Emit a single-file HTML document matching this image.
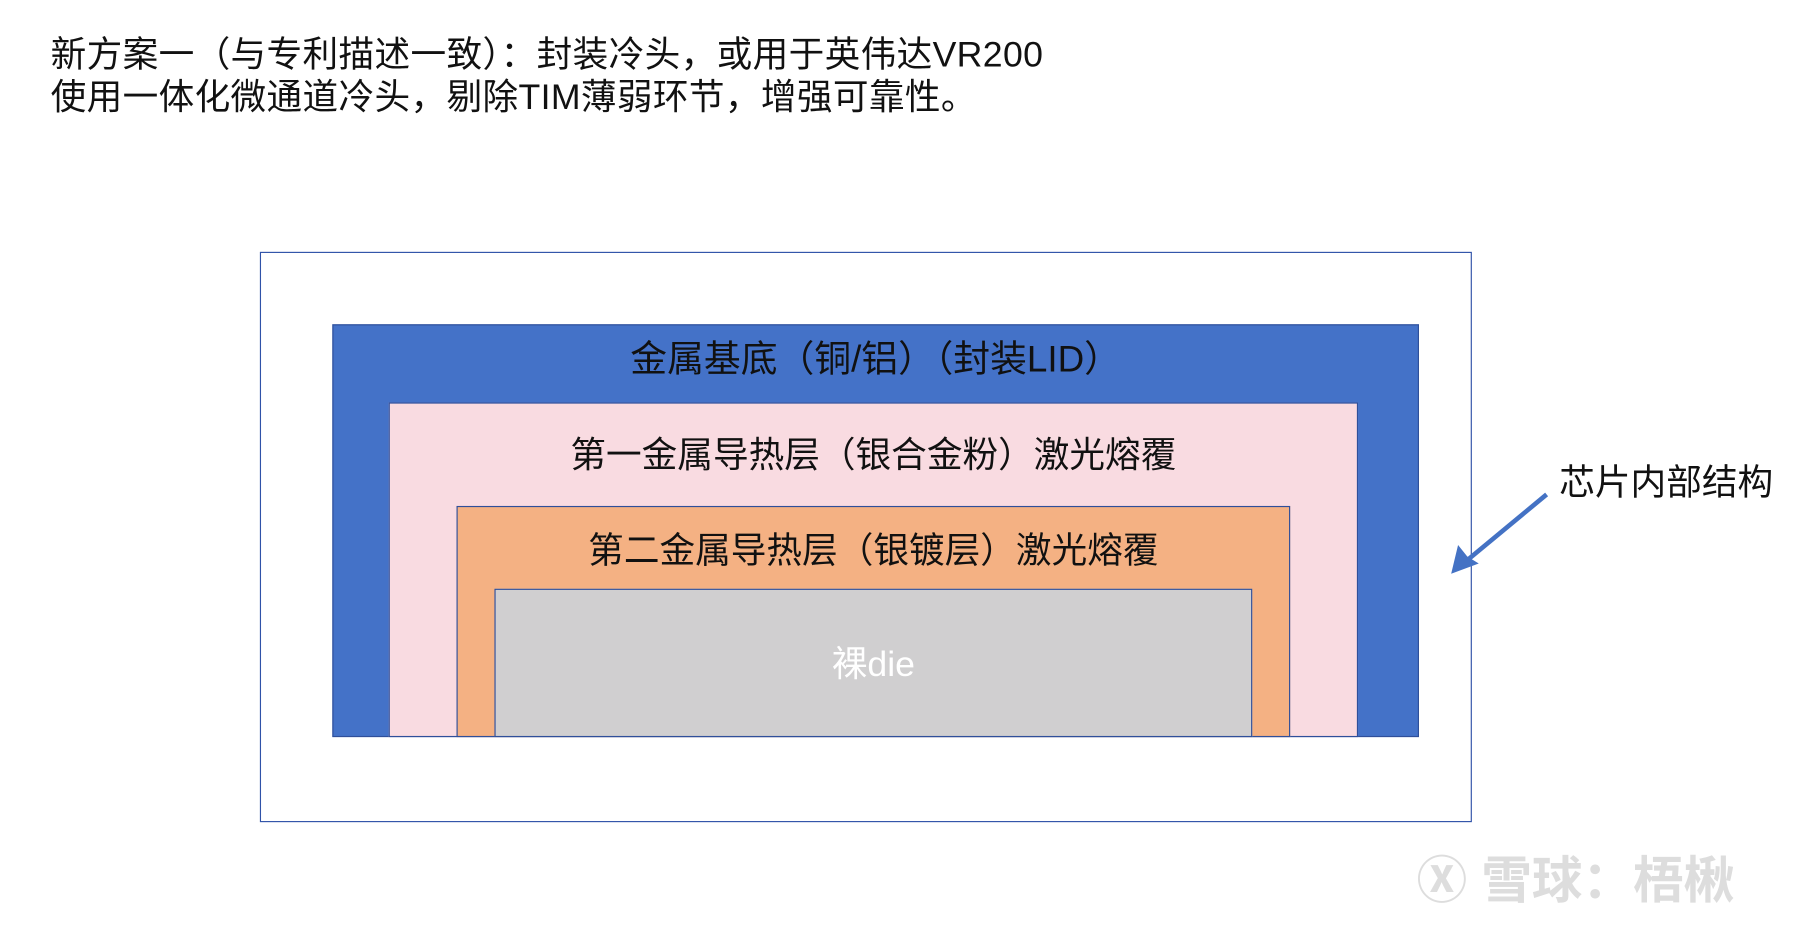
<!DOCTYPE html>
<html><head><meta charset="utf-8"><style>
html,body{margin:0;padding:0;background:#fff;width:1803px;height:929px;overflow:hidden}
#w{position:absolute;left:0;top:0;width:1568px;height:808px;transform:scale(1.1499);transform-origin:0 0;font-family:"Liberation Sans","Noto Sans CJK SC",sans-serif;color:#111}
.b{position:absolute;box-sizing:border-box;border:1.5px solid #2f4f9a}
.t{position:absolute;font-size:31px;white-space:nowrap;text-align:center}
</style></head><body><div id="w">
<div class="t" style="left:44px;top:29px;text-align:left;line-height:37px;font-size:31px;letter-spacing:0.3px">新方案一（与专利描述一致）：封装冷头，或用于英伟达VR200<br>使用一体化微通道冷头，剔除TIM薄弱环节，增强可靠性。</div>
<div class="b" style="left:226px;top:219px;width:1054px;height:496px;border-color:#2f52a8"></div>
<div class="b" style="left:289px;top:282px;width:945px;height:359px;background:#4472c8"></div>
<div class="b" style="left:338px;top:350px;width:843px;height:291px;background:#f9dbe1"></div>
<div class="b" style="left:397px;top:440px;width:725px;height:201px;background:#f4b183"></div>
<div class="b" style="left:430px;top:512px;width:659px;height:129px;background:#d0cfd0"></div>
<div class="t" style="left:289px;width:945px;top:287px;font-size:32px">金属基底（铜/铝）（封装LID）</div>
<div class="t" style="left:338px;width:843px;top:370px">第一金属导热层（银合金粉）激光熔覆</div>
<div class="t" style="left:397px;width:725px;top:453px">第二金属导热层（银镀层）激光熔覆</div>
<div class="t" style="left:430px;width:659px;top:552px;color:#fff">裸die</div>
<div class="t" style="left:1356px;top:394px;text-align:left">芯片内部结构</div>
<svg style="position:absolute;left:0;top:0" width="1568" height="808"><line x1="1345" y1="430" x2="1275" y2="488" stroke="#4472c4" stroke-width="4"/><polygon points="1262,499 1268,474 1276,484 1286,490" fill="#4472c4"/></svg>
<div class="t" style="left:1232px;top:730px;font-size:44px;color:#ddd;font-weight:bold;text-align:left">Ⓧ 雪球：梧楸</div>
</div></body></html>
